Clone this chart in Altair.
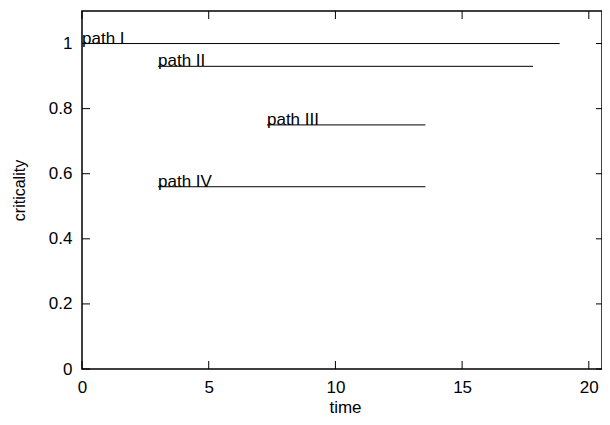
import altair as alt
import pandas as pd

# data
paths = ["path I", "path II", "path III", "path IV"]
starts = [0.0, 3.0, 7.3, 3.0]
ends = [18.85, 17.8, 13.55, 13.55]
crit = [1.0, 0.93, 0.75, 0.56]

x_ticks = [0, 5, 10, 15, 20]
y_ticks = [0, 0.2, 0.4, 0.6, 0.8, 1.0]

W, H = 520, 358
FONT = "Liberation Sans"
FS = 17

df = pd.DataFrame({"path": paths, "start": starts, "end": ends, "crit": crit})
dx = pd.DataFrame({"t": x_ticks})
dy = pd.DataFrame({"c": y_ticks})

xs = alt.Scale(domain=[0, 20.52], nice=False, zero=False)
ys = alt.Scale(domain=[0, 1.1], nice=False, zero=False)

xaxis = alt.Axis(values=x_ticks, ticks=False, domain=False, grid=False,
                 labelFlush=False, labelOverlap=False,
                 labelFontSize=FS, labelFont=FONT, labelColor="black",
                 labelPadding=10, title="time", titleFont=FONT, titleFontSize=FS,
                 titleFontWeight="normal", titleColor="black",
                 titleX=263, titleY=43, titleBaseline="alphabetic")
yaxis = alt.Axis(values=y_ticks, format="~g", ticks=False, domain=False, grid=False,
                 labelFlush=False, labelOverlap=False,
                 labelFontSize=FS, labelFont=FONT, labelColor="black",
                 labelPadding=10, title="criticality", titleFont=FONT,
                 titleFontSize=FS - 1, titleFontWeight="normal", titleColor="black",
                 titleX=-63, titleY=H / 2, titleAngle=-90, titleBaseline="middle",
                 titleAlign="center")

lines = alt.Chart(df).mark_rule(color="black", strokeWidth=1).encode(
    x=alt.X("start:Q", scale=xs, axis=xaxis),
    x2="end:Q",
    y=alt.Y("crit:Q", scale=ys, axis=yaxis),
)

labels = alt.Chart(df).mark_text(
    align="left", baseline="alphabetic", fontSize=FS, font=FONT, color="black", dy=0
).encode(
    x=alt.X("start:Q", scale=xs),
    y=alt.Y("crit:Q", scale=ys),
    text="path:N",
)

tick_bottom = alt.Chart(dx).mark_rule(color="black").encode(
    x=alt.X("t:Q", scale=xs), y=alt.value(H), y2=alt.value(H - 8))
tick_top = alt.Chart(dx).mark_rule(color="black").encode(
    x=alt.X("t:Q", scale=xs), y=alt.value(0), y2=alt.value(8))
tick_left = alt.Chart(dy).mark_rule(color="black").encode(
    y=alt.Y("c:Q", scale=ys), x=alt.value(0), x2=alt.value(8))
tick_right = alt.Chart(dy).mark_rule(color="black").encode(
    y=alt.Y("c:Q", scale=ys), x=alt.value(W), x2=alt.value(W - 6))

chart = alt.layer(lines, labels, tick_bottom, tick_top, tick_left, tick_right).properties(
    width=W, height=H,
    autosize=alt.AutoSizeParams(type="none"),
    padding={"left": 74, "top": 3, "right": 0, "bottom": 48},
).configure_view(stroke="black", strokeWidth=1.5)

chart.save("out.html", embed_options={"renderer": "svg", "actions": False})
